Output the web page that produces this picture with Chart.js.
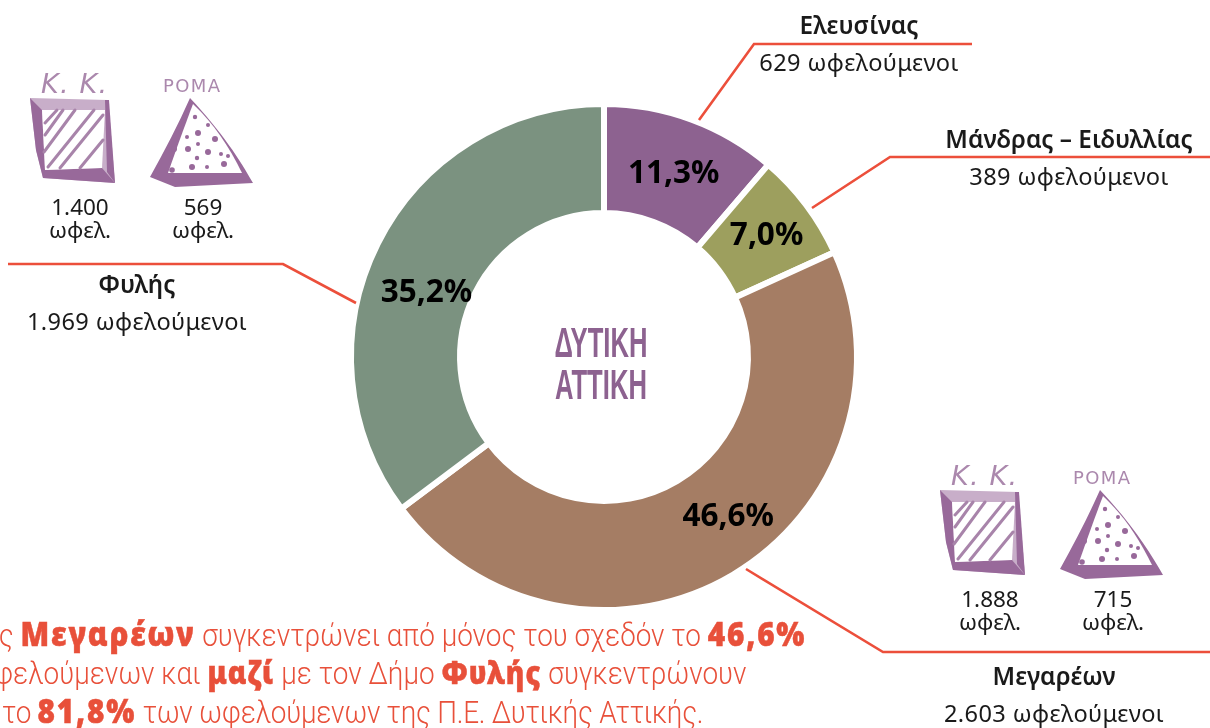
<!DOCTYPE html>
<html lang="el"><head><meta charset="utf-8">
<script src="https://cdn.jsdelivr.net/npm/chart.js@4"></script>
<style>
html,body{margin:0;padding:0;background:#fff;width:1210px;height:728px;overflow:hidden}
#wrap{position:relative;width:1210px;height:728px;overflow:hidden;font-family:"Noto Sans",sans-serif;color:#1a1a1a}
#c{position:absolute;left:0;top:0}
svg{position:absolute;left:0;top:0}
.t{position:absolute;white-space:nowrap;transform:translateX(-50%);text-align:center}
.n{font-size:23.6px;line-height:30px;letter-spacing:.4px}
.b{font-weight:600;font-size:24.3px;line-height:30px}
.s{font-size:22.5px;line-height:22.5px}
.title{position:absolute;left:600.5px;top:321px;transform:translateX(-50%) scaleX(.596);font-family:"Liberation Sans";font-weight:700;font-size:43px;line-height:42px;color:#8d6290;text-align:center;white-space:nowrap}
.p{position:absolute;white-space:nowrap;font-family:Roboto;font-weight:300;font-size:31px;line-height:38px;color:#e8503a;transform:scaleX(.9);transform-origin:right center;text-align:right}
.p b{font-family:"Noto Sans";font-weight:900;font-size:33px;letter-spacing:2px;-webkit-text-stroke:.5px #e8503a}
.p.mid b{font-size:31px;letter-spacing:1.2px}
.p.tight{letter-spacing:-.27px}
</style></head><body>
<div id="wrap">
<canvas id="c" width="1210" height="728"></canvas>
<svg width="1210" height="728" viewBox="0 0 1210 728">
<defs>
<filter id="soft" x="-5%" y="-5%" width="110%" height="110%"><feGaussianBlur stdDeviation="0.7"/></filter>
<g id="icons" fill="none" filter="url(#soft)" stroke-linecap="round" stroke-linejoin="round">
 <path d="M30 98L108 100L115 183L43 178L36 150Z" fill="#c8aec9"/>
 <path d="M30 98L42 110L45 170L60 176L43 178L36 150Z" fill="#98699a"/>
 <path d="M45 170L102 168L115 183L43 178Z" fill="#98699a"/>
 <path d="M105 100L109 100L115 183L107 172Z" fill="#98699a"/>
 <path d="M42 110L105 110L102 168L45 170Z" fill="#fff"/>
 <path d="M45 123L57 110M45 135L63 110M44 152L75 110M48 167L94 110M60 168L103 115M80 168L103 140" stroke="#a884aa" stroke-width="3"/>
 <path d="M190 98C178 125 165 150 150 177L175 187L253 183C240 160 222 132 190 98Z" fill="#98699a"/>
 <path d="M193 104C215 125 228 145 242 173L168 173C176 150 185 125 193 104Z" fill="#fff"/>
 <g fill="#98699a">
  <circle cx="195" cy="117" r="2.2"/><circle cx="208" cy="125" r="2"/><circle cx="198" cy="133" r="3"/><circle cx="187" cy="137" r="2"/>
  <circle cx="215" cy="139" r="3"/><circle cx="198" cy="144" r="2"/><circle cx="188" cy="149" r="3"/><circle cx="208" cy="152" r="3"/>
  <circle cx="174" cy="149" r="3"/><circle cx="197" cy="158" r="2.2"/><circle cx="221" cy="154" r="2"/><circle cx="228" cy="156" r="2"/>
  <circle cx="192" cy="167" r="3"/><circle cx="207" cy="167" r="2"/><circle cx="224" cy="164" r="3"/><circle cx="172" cy="170" r="2.8"/>
 </g>
 <text x="41" y="93" font-family="DejaVu Sans" font-size="27" fill="#ab88ad" font-style="oblique" textLength="66">Κ. Κ.</text>
 <text x="163" y="92" font-family="DejaVu Sans" font-size="18" fill="#ab88ad" textLength="57">ΡΟΜΑ</text>
</g>
</defs>
<use href="#icons"/>
<use href="#icons" x="910" y="392"/>
<g fill="none" stroke="#ec4f3b" stroke-width="2.6">
 <path d="M972 44H754L699 120"/>
 <path d="M1210 157H890L812 208"/>
 <path d="M8 264H283L356 303"/>
 <path d="M1210 652H883L746 569"/>
</g>
</svg>
<div class="title">ΔΥΤΙΚΗ<br>ΑΤΤΙΚΗ</div>
<div id="labels"></div>
<div class="p" style="right:404px;top:615px"><span>Ο Δήμος </span><b>Μεγαρέων</b> συγκεντρώνει από μόνος του σχεδόν το <b>46,6%</b></div>
<div class="p mid" style="right:464px;top:653px">των ωφελούμενων και <b>μαζί</b> με τον Δήμο <b>Φυλής</b> συγκεντρώνουν</div>
<div class="p tight" style="right:507px;top:692px">το <b>81,8%</b> των ωφελούμενων της Π.Ε. Δυτικής Αττικής.</div>
</div>
<script>
const categories=["Ελευσίνας","Μάνδρας – Ειδυλλίας","Μεγαρέων","Φυλής"];
const beneficiaries=[629,389,2603,1969];
const percentLabels=["11,3%","7,0%","46,6%","35,2%"];
const colors=["#8d6290","#9d9f5e","#a57d64","#7b9280"];
const labelShift=[[1,3],[4,-2],[23,-11],[0,25]];
const totalsText=["629 ωφελούμενοι","389 ωφελούμενοι","2.603 ωφελούμενοι","1.969 ωφελούμενοι"];
const labelPos=[[859,10],[1069,124],[1054,661],[137,269]];
const kk=["1.400","1.888"],roma=["569","715"];
const subPos=[[80,196,203],[990,588,1113]];

const L=document.getElementById('labels');
categories.forEach((c,i)=>{
  const d=document.createElement('div');d.className='t';
  d.style.left=labelPos[i][0]+'px';d.style.top=labelPos[i][1]+'px';
  d.innerHTML='<div class="b">'+c+'</div><div class="n" style="margin-top:7px">'+totalsText[i]+'</div>';
  L.appendChild(d);
});
subPos.forEach((p,i)=>{
  [[p[0],kk[i]],[p[2],roma[i]]].forEach(([x,v])=>{
    const d=document.createElement('div');d.className='t s';
    d.style.left=x+'px';d.style.top=p[1]+'px';d.innerHTML=v+'<br>ωφελ.';
    L.appendChild(d);
  });
});
const pctPlugin={id:'pct',afterDatasetsDraw(ch){
  const g=ch.ctx,m=ch.getDatasetMeta(0);
  g.save();g.font='700 31.5px "Noto Sans"';g.fillStyle='#000';g.textAlign='center';g.textBaseline='middle';
  m.data.forEach((a,i)=>{const q=a.tooltipPosition();g.fillText(percentLabels[i],q.x+labelShift[i][0],q.y+labelShift[i][1]);});
  g.restore();
}};
new Chart(document.getElementById('c'),{
  type:'doughnut',
  data:{labels:categories,datasets:[{data:beneficiaries,backgroundColor:colors,borderColor:'#fff',borderWidth:6,borderAlign:'center'}]},
  options:{responsive:false,animation:false,cutout:'56.9%',
    layout:{padding:{left:348,right:350,top:101,bottom:115}},
    plugins:{legend:{display:false},tooltip:{enabled:false}}},
  plugins:[pctPlugin]
});
</script>
</body></html>
